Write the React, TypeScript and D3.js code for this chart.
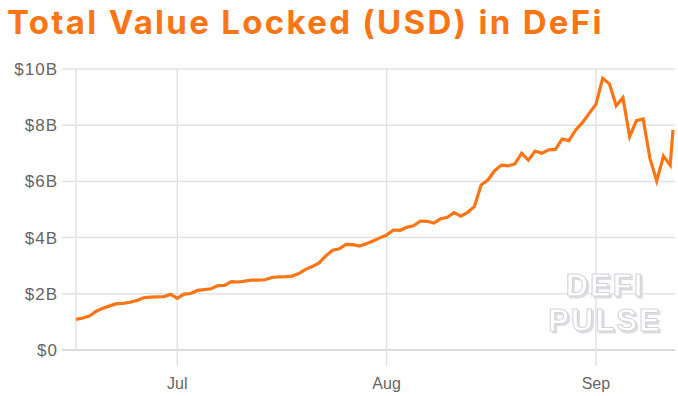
import { useEffect, useRef } from "react";
import * as d3 from "d3";

// daily TVL, billions USD, starting 2020-06-16
const startDay = "2020-06-16";
const tvl = [
  1.09, 1.14, 1.21, 1.38, 1.49, 1.57, 1.65, 1.66, 1.7, 1.76,
  1.86, 1.88, 1.89, 1.9, 1.98, 1.84, 1.99, 2.01, 2.12, 2.15,
  2.18, 2.29, 2.3, 2.43, 2.42, 2.45, 2.49, 2.49, 2.5, 2.58,
  2.6, 2.61, 2.63, 2.72, 2.87, 2.97, 3.1, 3.35, 3.55, 3.6,
  3.76, 3.75, 3.7, 3.78, 3.88, 3.99, 4.09, 4.27, 4.26, 4.37,
  4.42, 4.59, 4.58, 4.52, 4.67, 4.72, 4.89, 4.76, 4.9, 5.1,
  5.87, 6.05, 6.38, 6.58, 6.55, 6.62, 7.0, 6.76, 7.08, 7.0,
  7.12, 7.14, 7.51, 7.45, 7.83, 8.09, 8.42, 8.74, 9.67, 9.47,
  8.69, 8.98, 7.59, 8.16, 8.22, 6.82, 6.02, 6.9, 6.58,
];
// latest (intraday) reading at the right edge
const latestTime = "2020-09-12T10:00";
const latestValue = 7.83;

const yTicks = [0, 2, 4, 6, 8, 10];
const xTickDays = ["2020-07-01", "2020-08-01", "2020-09-01"];

const ORANGE = "#fb7514";

const App = () => {
  const svgRef = useRef(null);

  useEffect(() => {
    const svg = d3.select(svgRef.current);
    svg.selectAll("*").remove();
    const width = 678;
    const height = 396;
    const margin = { top: 69, right: 3, bottom: 46, left: 76 };

    const start = new Date(startDay + "T00:00");
    const points = tvl.map((v, i) => ({ date: d3.timeDay.offset(start, i), value: v }));
    points.push({ date: new Date(latestTime), value: latestValue });

    const x = d3
      .scaleTime()
      .domain([start, new Date(latestTime)])
      .range([margin.left, width - margin.right - 2]);
    const y = d3
      .scaleLinear()
      .domain([0, 10])
      .range([height - margin.bottom, margin.top]);

    // watermark shadow filter
    const defs = svg.append("defs");
    const f = defs.append("filter").attr("id", "wmShadow").attr("x", "-10%").attr("y", "-10%")
      .attr("width", "130%").attr("height", "140%");
    f.append("feOffset").attr("in", "SourceAlpha").attr("dx", 2).attr("dy", 2).attr("result", "off");
    f.append("feFlood").attr("flood-color", "#dcdce2").attr("result", "col");
    f.append("feComposite").attr("in", "col").attr("in2", "off").attr("operator", "in").attr("result", "sh");
    const merge = f.append("feMerge");
    merge.append("feMergeNode").attr("in", "sh");
    merge.append("feMergeNode").attr("in", "SourceGraphic");

    svg
      .append("text")
      .attr("x", 7)
      .attr("y", 34)
      .attr("fill", ORANGE)
      .attr("font-family", "Inter, 'Open Sans', sans-serif")
      .attr("font-weight", 700)
      .attr("font-size", "33px")
      .attr("letter-spacing", "2.3px")
      .text("Total Value Locked (USD) in DeFi");

    // horizontal grid + y labels
    const gy = svg.append("g");
    gy.selectAll("line")
      .data(yTicks)
      .join("line")
      .attr("x1", 62)
      .attr("x2", width - 3)
      .attr("y1", (d) => y(d))
      .attr("y2", (d) => y(d))
      .attr("stroke", (d) => (d === 0 ? "#cfcfcf" : "#e2e2e2"))
      .attr("stroke-width", 1.5);
    gy.selectAll("text")
      .data(yTicks)
      .join("text")
      .attr("x", 58)
      .attr("y", (d) => y(d) + 6)
      .attr("text-anchor", "end")
      .attr("fill", "#666")
      .attr("font-family", "'Liberation Sans', Arial, sans-serif")
      .attr("font-size", "17px")
      .attr("letter-spacing", "1px")
      .text((d) => (d === 0 ? "$0" : `$${d}B`));

    // vertical grid + x labels
    const xt = [start, ...xTickDays.map((s) => new Date(s + "T00:00"))];
    const gx = svg.append("g");
    gx.selectAll("line")
      .data(xt)
      .join("line")
      .attr("x1", (d) => x(d))
      .attr("x2", (d) => x(d))
      .attr("y1", margin.top)
      .attr("y2", (d, i) => (i === 0 ? y(0) : y(0) + 16))
      .attr("stroke", "#e2e2e2")
      .attr("stroke-width", 1.5);
    gx.selectAll("text")
      .data(xt.slice(1))
      .join("text")
      .attr("x", (d) => x(d))
      .attr("y", 389)
      .attr("text-anchor", "middle")
      .attr("fill", "#666")
      .attr("font-family", "'Liberation Sans', Arial, sans-serif")
      .attr("font-size", "16px")
      .text((d) => d3.timeFormat("%b")(d));

    // DeFi Pulse watermark
    const wm = svg.append("text")
      .attr("x", 605)
      .attr("font-family", "'Liberation Sans', Arial, sans-serif")
      .attr("font-weight", 700)
      .attr("font-size", "31px")
      .attr("text-anchor", "middle")
      .attr("letter-spacing", "2px")
      .attr("fill", "#fff")
      .attr("stroke", "#d2d2d8")
      .attr("stroke-width", 1)
      .attr("filter", "url(#wmShadow)");
    wm.append("tspan").attr("x", 605).attr("y", 296).text("DEFI");
    wm.append("tspan").attr("x", 605).attr("y", 331).text("PULSE");

    const line = d3
      .line<{ date: Date; value: number }>()
      .x((d) => x(d.date))
      .y((d) => y(d.value));

    svg
      .append("path")
      .datum(points)
      .attr("fill", "none")
      .attr("stroke", ORANGE)
      .attr("stroke-width", 3.2)
      .attr("stroke-linejoin", "miter")
      .attr("d", line);
  }, []);

  return (
    <div style={{ position: "absolute", left: 0, top: 0 }}>
      <svg ref={svgRef} width={678} height={396} style={{ display: "block" }}></svg>
    </div>
  );
};

export default App;
